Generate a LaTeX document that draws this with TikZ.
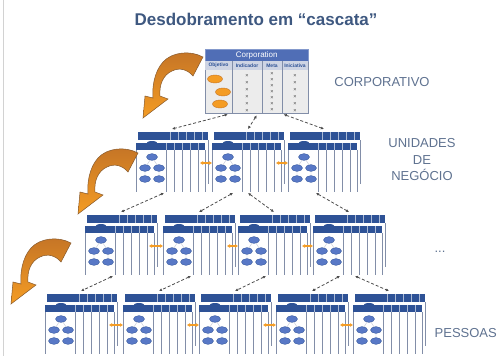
\documentclass[tikz,border=0pt]{standalone}
\usepackage{fontspec}
\setmainfont{Liberation Sans}
\usepackage{tikz}
\usetikzlibrary{calc,positioning,arrows.meta,shapes.geometric}

\definecolor{titleblue}{RGB}{62,88,128}
\definecolor{unitblue}{RGB}{46,82,150}
\definecolor{corpblue}{RGB}{80,110,182}
\definecolor{corpgray}{RGB}{206,212,228}
\definecolor{labelgray}{RGB}{95,114,144}
\definecolor{ovalblue}{RGB}{88,120,198}
\definecolor{linegray}{RGB}{130,142,168}
\definecolor{darkorange}{RGB}{196,116,38}
\definecolor{lightorange}{RGB}{244,156,36}

\tikzset{
    unitbox/.pic={
        \draw[linegray, line width=0.7pt] (70,8) -- (70,52);
        \fill[unitblue] (0,0) rectangle (70,8);
        \foreach \c in {32,40,48,56,64} \draw[white!60!unitblue, line width=0.4pt] (\c,0) -- (\c,8);
        \fill[white] (-2,18) rectangle (67,60);
        \foreach \c in {-2,28,36,44,52,60,67} \draw[linegray, line width=0.7pt] (\c,18) -- (\c,60);
        \fill[unitblue] (14,12) ellipse [x radius=6pt, y radius=3pt];
        \fill[unitblue] (-2,11) rectangle (67,18);
        \foreach \c in {28,36,44,52,60} \draw[white!60!unitblue, line width=0.4pt] (\c,11) -- (\c,18);
        \draw[linegray!50, line width=0.4pt] (7,36) -- (14,25) -- (21,36) (7,36) -- (7,47) (21,36) -- (21,47);
        \foreach \p in {(14,25),(7,36),(21,36),(7,47),(21,47)}
            \filldraw[fill=ovalblue, draw=unitblue, line width=0.3pt] \p ellipse [x radius=5.5pt, y radius=3.4pt];
        \coordinate (-top) at (34,-3);
        \coordinate (-bot) at (26,61);
        \coordinate (-in) at (-2,31);
        \coordinate (-out) at (62,31);
    },
    bigarrow/.pic={
        \draw[draw=brown!70!black, line width=0.5pt, top color=darkorange, bottom color=lightorange]
            (63,5) .. controls (50,-2) and (32,0) .. (23,10)
            .. controls (14,20) and (12,36) .. (13,46)
            -- (5,44) -- (3,66) -- (28,47) -- (20,44)
            .. controls (19,33) and (23,23) .. (32,19)
            .. controls (40,15) and (48,18) .. (53,24) -- cycle;
    }
}

\begin{document}
\begin{tikzpicture}[x=1pt, y=-1pt,
    link/.style={densely dashed, line width=0.8pt, black!70, {Latex[length=3pt,width=3pt]}-{Latex[length=3pt,width=3pt]}},
    swap/.style={lightorange, line width=1.6pt, {Latex[length=3pt,width=4pt]}-{Latex[length=3pt,width=4pt]}},
    level/.style={font=\fontsize{13}{16.5}\selectfont, text=labelgray, align=center},
    colhead/.style={font=\fontsize{5}{5}\selectfont\bfseries, text=unitblue, inner sep=0pt},
    xmark/.style={font=\fontsize{5.5}{5.5}\selectfont, text=black!75, inner sep=0pt}]

    \useasboundingbox (0,0) rectangle (498,356);
    \draw[gray!35, line width=1pt] (3,0) -- (3,356);

    \node (title) [font=\fontsize{17}{20}\selectfont\bfseries, text=titleblue] at (256,19) {Desdobramento em “cascata”};

    \node (corp) [draw=linegray, line width=0.4pt, fill=gray!15, minimum width=103pt, minimum height=64pt, inner sep=0pt, anchor=north west] at (205,49) {};
    \node (corphead) [fill=corpblue, draw=corpblue!70!white, minimum width=103pt, minimum height=12pt, inner sep=0pt, anchor=north west, text=white, font=\fontsize{8}{8}\selectfont] at (205,49) {Corporation};
    \fill[corpgray] (205,61) rectangle (308,70);
    \foreach \c in {232,262,282} \draw[linegray, line width=0.5pt] (\c,61) -- (\c,113);
    \node[colhead] at (218.5,65.5) {Objetivo};
    \node[colhead] at (247,65.5) {Indicador};
    \node[colhead] at (272,65.5) {Meta};
    \node[colhead] at (295,65.5) {Iniciativa};
    \foreach \p in {(215,79),(223,92),(220,104)}
        \filldraw[fill=lightorange, draw=darkorange, line width=0.4pt] \p ellipse [x radius=7.5pt, y radius=4pt];
    \foreach \y in {76,83,...,111} \node[xmark] at (247,\y) {×};
    \foreach \y in {74,80,...,110} \node[xmark] at (272,\y) {×};
    \foreach \y in {76,83,...,111} \node[xmark] at (295,\y) {×};

    \pic (u1) at (138,132) {unitbox};
    \pic (u2) at (214,132) {unitbox};
    \pic (u3) at (290,132) {unitbox};
    \foreach \n/\x in {1/87,2/165,3/240,4/315} \pic (m\n) at (\x,215) {unitbox};
    \foreach \n/\x in {1/47,2/125,3/201,4/278,5/355} \pic (p\n) at (\x,294) {unitbox};

    \pic at (140,52) {bigarrow};
    \pic at (75,148) {bigarrow};
    \pic at (8,238) {bigarrow};

    \node (corplabel) [level] at (382,82) {CORPORATIVO};
    \node (unitlabel) [level] at (422,160) {UNIDADES\\DE\\NEGÓCIO};
    \node (dots) [level] at (440,252) {...};
    \node (peoplelabel) [level, anchor=east, inner xsep=1pt] at (498,333) {PESSOAS};

    \draw[link] ($(corp.south)+(-29,1)$) -- (u1-top);
    \draw[link] ($(corp.south)+(0,2)$) -- (u2-top);
    \draw[link] ($(corp.south)+(27,1)$) -- (u3-top);
    \draw[link] (u1-bot) -- (m1-top);
    \draw[link] ($(u2-bot)+(-7,0)$) -- (m2-top);
    \draw[link] ($(u2-bot)+(8,0)$) -- (m3-top);
    \draw[link] (u3-bot) -- (m4-top);
    \draw[link] (m1-bot) -- (p1-top);
    \draw[link] (m2-bot) -- (p2-top);
    \draw[link] (m3-bot) -- (p3-top);
    \draw[link] ($(m4-bot)+(-1,0)$) -- (p4-top);
    \draw[link] ($(m4-bot)+(14,0)$) -- (p5-top);

    \draw[swap] (u1-out) -- (u2-in);
    \draw[swap] (u2-out) -- (u3-in);
    \draw[swap] (m1-out) -- (m2-in);
    \draw[swap] (m2-out) -- (m3-in);
    \draw[swap] (m3-out) -- (m4-in);
    \foreach \a/\b in {1/2,2/3,3/4,4/5} \draw[swap] (p\a-out) -- (p\b-in);
\end{tikzpicture}
\end{document}
